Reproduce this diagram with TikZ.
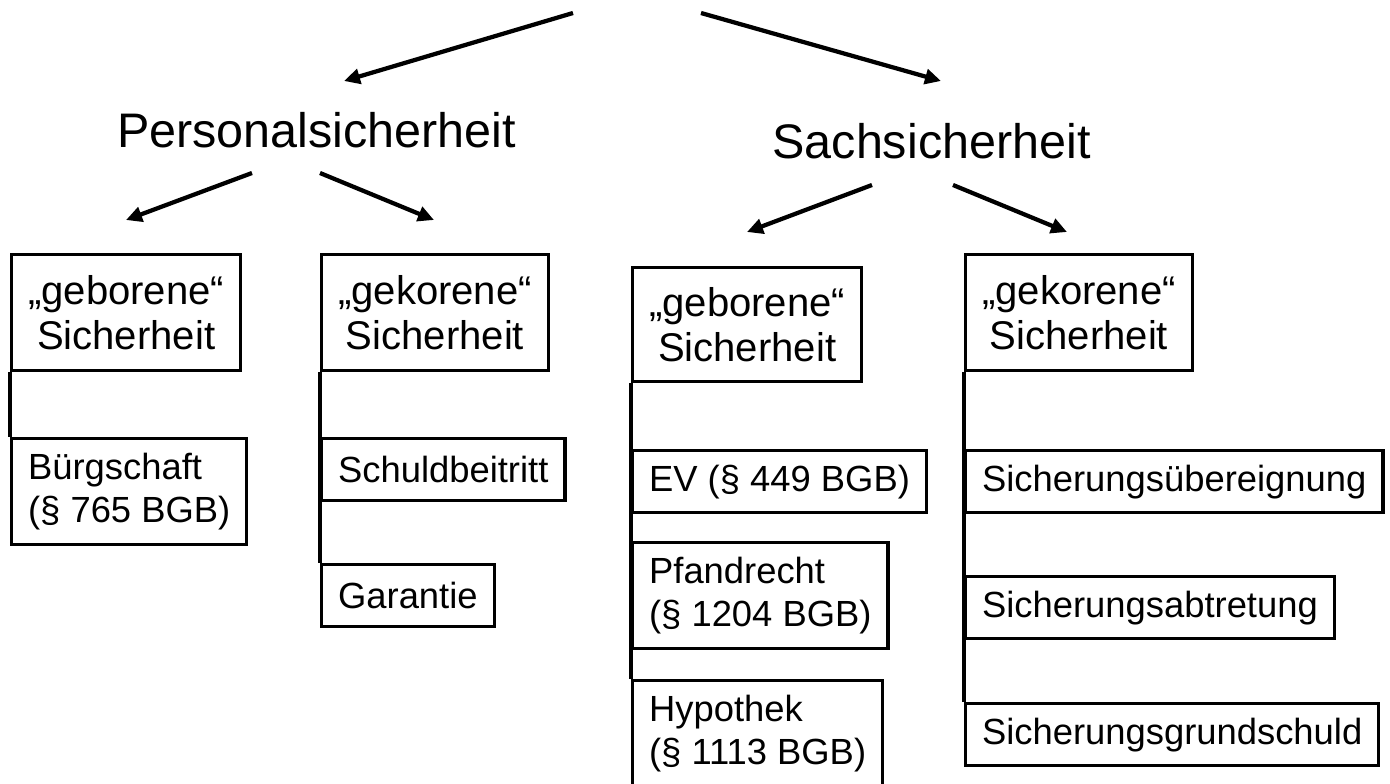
\documentclass[tikz,border=0pt]{standalone}
\usepackage{fontspec}
\setmainfont{Liberation Sans}
\usetikzlibrary{arrows.meta}

\tikzset{
  head/.style={anchor=base, font=\fontsize{27.6pt}{31pt}\selectfont},
  kind/.style={draw, line width=0.065cm, anchor=north west, align=center,
    inner xsep=0.33cm, minimum height=2.32cm,
    font=\fontsize{22.8pt}{25.6pt}\selectfont},
  leaf/.style={draw, line width=0.065cm, anchor=north west, align=left,
    inner xsep=0.33cm, minimum height=1.24cm,
    font=\fontsize{20.7pt}{24.5pt}\selectfont},
  tall/.style={minimum height=2.12cm},
  arr/.style={-{Triangle[length=0.32cm,width=0.3cm]}, line width=0.085cm},
  stem/.style={line width=0.065cm}
}

\begin{document}
\begin{tikzpicture}

\clip (0,0) rectangle (27.8,15.66);

\coordinate (topl) at (11.46,15.40);
\coordinate (topr) at (14.02,15.40);
\coordinate (persin) at (6.88,14.04);
\coordinate (sachin) at (18.82,14.04);

\node [head] (pers) at (6.33,12.72) {Personalsicherheit};
\node [head] (sach) at (18.63,12.50) {Sachsicherheit};

\draw[arr] (topl) to (persin);
\draw[arr] (topr) to (sachin);

%personal arrows
\coordinate (persl) at (5.04,12.20);
\coordinate (persr) at (6.40,12.20);
\coordinate (pgebin) at (2.52,11.26);
\coordinate (pgekin) at (8.68,11.26);
\draw[arr] (persl) to (pgebin);
\draw[arr] (persr) to (pgekin);

%sach arrows
\coordinate (sachl) at (17.44,11.96);
\coordinate (sachr) at (19.06,11.96);
\coordinate (sgebin) at (14.94,11.02);
\coordinate (sgekin) at (21.34,11.02);
\draw[arr] (sachl) to (sgebin);
\draw[arr] (sachr) to (sgekin);

%kinds
\node [kind] (pgeb) at (0.20,10.60) {„geborene“\\Sicherheit};
\node [kind] (pgek) at (6.40,10.60) {„gekorene“\\Sicherheit};
\node [kind, minimum height=2.28cm] (sgeb) at (12.62,10.34) {„geborene“\\Sicherheit};
\node [kind] (sgek) at (19.28,10.60) {„gekorene“\\Sicherheit};

%personal leaves
\node [leaf, tall] (buerg) at (0.20,6.92) {Bürgschaft\\(§ 765 BGB)};
\node [leaf] (schuld) at (6.40,6.92) {Schuldbeitritt};
\node [leaf] (garant) at (6.40,4.40) {Garantie};

%sach leaves
\node [leaf] (ev) at (12.62,6.68) {EV (§ 449 BGB)};
\node [leaf, tall] (pfand) at (12.62,4.84) {Pfandrecht\\(§ 1204 BGB)};
\node [leaf, tall] (hypo) at (12.62,2.08) {Hypothek\\(§ 1113 BGB)};
\node [leaf] (sue) at (19.28,6.68) {Sicherungsübereignung};
\node [leaf] (sab) at (19.28,4.16) {Sicherungsabtretung};
\node [leaf] (sgs) at (19.28,1.62) {Sicherungsgrundschuld};

\draw[stem] (pgeb.south west) -- (buerg.north west);
\draw[stem] (pgek.south west) -- (garant.north west);
\draw[stem] (sgeb.south west) -- (hypo.north west);
\draw[stem] (sgek.south west) -- (sgs.north west);

\end{tikzpicture}
\end{document}
